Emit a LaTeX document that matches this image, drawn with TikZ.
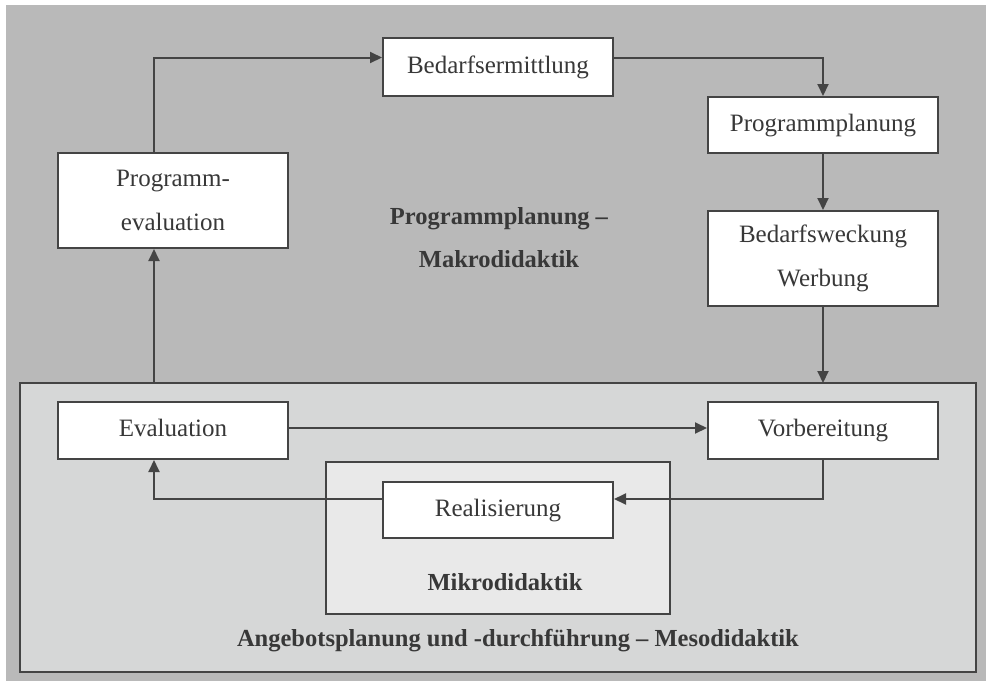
\documentclass[tikz,border=0pt]{standalone}
\usepackage{fontspec}
\setmainfont{Liberation Serif}
\usetikzlibrary{arrows.meta,calc}
\definecolor{bggray}{HTML}{B9B9B9}
\definecolor{mesogray}{HTML}{D6D7D7}
\definecolor{mikrogray}{HTML}{E9E9E9}
\definecolor{linegray}{HTML}{444444}
\definecolor{textgray}{HTML}{383838}
\begin{document}
\begin{tikzpicture}[x=1pt,y=-1pt,
  every node/.style={font=\fontsize{25}{44}\selectfont,text=textgray},
  procbox/.style={draw=linegray,line width=2pt,fill=white,minimum width=230pt,inner sep=0pt,align=center},
  onebox/.style={procbox,text height=17pt,text depth=5pt},
  arealabel/.style={font=\fontsize{24.5}{43}\selectfont\bfseries,text=textgray,align=center},
  conn/.style={draw=linegray,line width=2pt},
  arr/.style={conn,-{Triangle[length=12pt,width=11pt]}}
]
\useasboundingbox (0,0) rectangle (986,681);
% backgrounds
\fill[bggray] (6,5) rectangle (986,681);
\draw[draw=linegray,line width=2pt,fill=mesogray] (20,383) rectangle (976,672);
\draw[draw=linegray,line width=2pt,fill=mikrogray] (326,462) rectangle (670,614);
% nodes
\node[procbox,minimum height=95pt] (pe) at (173,200.5) {Programm-\\evaluation};
\node[onebox,minimum height=58pt] (be) at (498,67) {Bedarfsermittlung};
\node[onebox,minimum height=56pt] (pp) at (823,125) {Programmplanung};
\node[procbox,minimum height=95pt] (bw) at (823,258.5) {Bedarfsweckung\\Werbung};
\node[onebox,minimum height=57pt] (ev) at (173,430.5) {Evaluation};
\node[onebox,minimum height=57pt] (vb) at (823,430.5) {Vorbereitung};
\node[onebox,minimum height=56pt] (re) at (498,510) {Realisierung};
% area labels
\node[arealabel] (makro) at (499,238) {Programmplanung –\\Makrodidaktik};
\node[arealabel] (mikro) at (505,582) {Mikrodidaktik};
\node[arealabel] (meso) at (518,641) {Angebotsplanung und -durchführung – Mesodidaktik};
% helper coordinates
\coordinate (topline) at (0,57.5);
\coordinate (xl) at (154,0);
\coordinate (mesotopL) at (154,383);
\coordinate (mesotopR) at (823,383);
\coordinate (evline) at (0,428);
\coordinate (midline) at (0,499);
% connectors
\draw[arr] (xl |- pe.north) -- (xl |- topline) -- (be.west |- topline);
\draw[arr] (be.east |- topline) -- (pp.north |- topline) -- (pp.north);
\draw[arr] (pp.south) -- (bw.north);
\draw[arr] (bw.south) -- (mesotopR);
\draw[arr] (mesotopL) -- (xl |- pe.south);
\draw[arr] (ev.east |- evline) -- (vb.west |- evline);
\draw[arr] (vb.south) -- (vb.south |- midline) -- (re.east |- midline);
\draw[arr] (re.west |- midline) -- (xl |- midline) -- (xl |- ev.south);
\end{tikzpicture}
\end{document}
